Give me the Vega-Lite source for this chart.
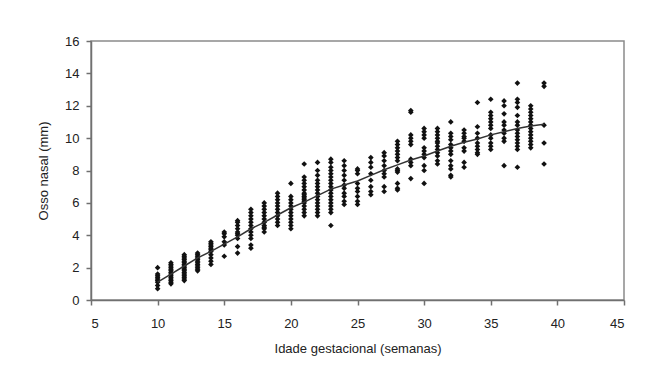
{
  "$schema": "https://vega.github.io/schema/vega-lite/v6.json",
  "width": 533,
  "height": 259,
  "autosize": {"type": "none"},
  "padding": {"left": 91, "top": 41, "right": 22, "bottom": 84},
  "background": "white",
  "config": {
    "view": {"stroke": "#8a8a8a", "strokeWidth": 1.5},
    "font": "Liberation Sans",
    "axis": {
      "grid": false,
      "domainColor": "#707070",
      "domainWidth": 1.5,
      "tickColor": "#707070",
      "tickWidth": 1.5,
      "tickSize": 5,
      "labelFont": "Liberation Sans",
      "labelFontSize": 13,
      "labelColor": "#222",
      "titleFont": "Liberation Sans",
      "titleFontSize": 13,
      "titleFontWeight": "normal",
      "titleColor": "#222"
    }
  },
  "datasets": {
    "pts": [
      {"w":10,"nb":0.7},{"w":10,"nb":0.9},{"w":10,"nb":1.1},{"w":10,"nb":1.2},{"w":10,"nb":1.3},{"w":10,"nb":1.4},{"w":10,"nb":1.5},{"w":10,"nb":1.6},{"w":10,"nb":2.0},
      {"w":11,"nb":1.0},{"w":11,"nb":1.1},{"w":11,"nb":1.2},{"w":11,"nb":1.3},{"w":11,"nb":1.4},{"w":11,"nb":1.5},{"w":11,"nb":1.6},{"w":11,"nb":1.7},{"w":11,"nb":1.8},{"w":11,"nb":1.9},{"w":11,"nb":2.0},{"w":11,"nb":2.1},{"w":11,"nb":2.2},{"w":11,"nb":2.3},
      {"w":12,"nb":1.2},{"w":12,"nb":1.3},{"w":12,"nb":1.4},{"w":12,"nb":1.5},{"w":12,"nb":1.6},{"w":12,"nb":1.7},{"w":12,"nb":1.8},{"w":12,"nb":1.9},{"w":12,"nb":2.0},{"w":12,"nb":2.1},{"w":12,"nb":2.2},{"w":12,"nb":2.3},{"w":12,"nb":2.4},{"w":12,"nb":2.5},{"w":12,"nb":2.6},{"w":12,"nb":2.7},{"w":12,"nb":2.8},
      {"w":13,"nb":1.8},{"w":13,"nb":1.9},{"w":13,"nb":2.0},{"w":13,"nb":2.1},{"w":13,"nb":2.2},{"w":13,"nb":2.3},{"w":13,"nb":2.4},{"w":13,"nb":2.5},{"w":13,"nb":2.6},{"w":13,"nb":2.7},{"w":13,"nb":2.8},{"w":13,"nb":2.9},
      {"w":14,"nb":2.2},{"w":14,"nb":2.4},{"w":14,"nb":2.6},{"w":14,"nb":2.8},{"w":14,"nb":3.0},{"w":14,"nb":3.1},{"w":14,"nb":3.2},{"w":14,"nb":3.3},{"w":14,"nb":3.4},{"w":14,"nb":3.5},{"w":14,"nb":3.6},
      {"w":15,"nb":2.7},{"w":15,"nb":3.4},{"w":15,"nb":3.6},{"w":15,"nb":3.9},{"w":15,"nb":4.1},{"w":15,"nb":4.2},
      {"w":16,"nb":2.9},{"w":16,"nb":3.3},{"w":16,"nb":3.8},{"w":16,"nb":4.0},{"w":16,"nb":4.1},{"w":16,"nb":4.2},{"w":16,"nb":4.4},{"w":16,"nb":4.6},{"w":16,"nb":4.8},{"w":16,"nb":4.9},
      {"w":17,"nb":3.2},{"w":17,"nb":3.4},{"w":17,"nb":3.8},{"w":17,"nb":4.0},{"w":17,"nb":4.2},{"w":17,"nb":4.4},{"w":17,"nb":4.6},{"w":17,"nb":4.8},{"w":17,"nb":5.0},{"w":17,"nb":5.2},{"w":17,"nb":5.4},{"w":17,"nb":5.6},
      {"w":18,"nb":4.2},{"w":18,"nb":4.4},{"w":18,"nb":4.5},{"w":18,"nb":4.6},{"w":18,"nb":4.8},{"w":18,"nb":5.0},{"w":18,"nb":5.2},{"w":18,"nb":5.4},{"w":18,"nb":5.6},{"w":18,"nb":5.8},{"w":18,"nb":6.0},
      {"w":19,"nb":4.6},{"w":19,"nb":4.8},{"w":19,"nb":5.0},{"w":19,"nb":5.2},{"w":19,"nb":5.4},{"w":19,"nb":5.6},{"w":19,"nb":5.8},{"w":19,"nb":6.0},{"w":19,"nb":6.2},{"w":19,"nb":6.4},{"w":19,"nb":6.6},
      {"w":20,"nb":4.4},{"w":20,"nb":4.6},{"w":20,"nb":4.8},{"w":20,"nb":5.0},{"w":20,"nb":5.2},{"w":20,"nb":5.4},{"w":20,"nb":5.6},{"w":20,"nb":5.8},{"w":20,"nb":6.0},{"w":20,"nb":6.2},{"w":20,"nb":6.4},{"w":20,"nb":7.2},
      {"w":21,"nb":5.2},{"w":21,"nb":5.4},{"w":21,"nb":5.6},{"w":21,"nb":5.8},{"w":21,"nb":6.0},{"w":21,"nb":6.1},{"w":21,"nb":6.2},{"w":21,"nb":6.3},{"w":21,"nb":6.4},{"w":21,"nb":6.5},{"w":21,"nb":6.6},{"w":21,"nb":6.8},{"w":21,"nb":7.0},{"w":21,"nb":7.2},{"w":21,"nb":7.4},{"w":21,"nb":7.6},{"w":21,"nb":8.4},
      {"w":22,"nb":5.2},{"w":22,"nb":5.4},{"w":22,"nb":5.6},{"w":22,"nb":5.8},{"w":22,"nb":6.0},{"w":22,"nb":6.2},{"w":22,"nb":6.4},{"w":22,"nb":6.6},{"w":22,"nb":6.8},{"w":22,"nb":7.0},{"w":22,"nb":7.2},{"w":22,"nb":7.4},{"w":22,"nb":7.7},{"w":22,"nb":8.0},{"w":22,"nb":8.5},
      {"w":23,"nb":4.6},{"w":23,"nb":5.4},{"w":23,"nb":5.6},{"w":23,"nb":5.8},{"w":23,"nb":6.0},{"w":23,"nb":6.2},{"w":23,"nb":6.4},{"w":23,"nb":6.6},{"w":23,"nb":6.8},{"w":23,"nb":7.0},{"w":23,"nb":7.2},{"w":23,"nb":7.4},{"w":23,"nb":7.6},{"w":23,"nb":7.8},{"w":23,"nb":8.0},{"w":23,"nb":8.2},{"w":23,"nb":8.5},{"w":23,"nb":8.7},
      {"w":24,"nb":5.9},{"w":24,"nb":6.1},{"w":24,"nb":6.4},{"w":24,"nb":6.6},{"w":24,"nb":6.9},{"w":24,"nb":7.1},{"w":24,"nb":7.4},{"w":24,"nb":7.7},{"w":24,"nb":8.0},{"w":24,"nb":8.3},{"w":24,"nb":8.6},
      {"w":25,"nb":5.9},{"w":25,"nb":6.1},{"w":25,"nb":6.4},{"w":25,"nb":6.7},{"w":25,"nb":6.9},{"w":25,"nb":7.2},{"w":25,"nb":7.8},{"w":25,"nb":8.0},{"w":25,"nb":8.1},
      {"w":26,"nb":6.5},{"w":26,"nb":6.7},{"w":26,"nb":7.0},{"w":26,"nb":7.4},{"w":26,"nb":7.8},{"w":26,"nb":8.2},{"w":26,"nb":8.5},{"w":26,"nb":8.8},
      {"w":27,"nb":6.7},{"w":27,"nb":7.0},{"w":27,"nb":7.6},{"w":27,"nb":7.8},{"w":27,"nb":8.0},{"w":27,"nb":8.3},{"w":27,"nb":8.6},{"w":27,"nb":8.9},{"w":27,"nb":9.1},
      {"w":28,"nb":6.8},{"w":28,"nb":6.9},{"w":28,"nb":7.2},{"w":28,"nb":7.9},{"w":28,"nb":8.0},{"w":28,"nb":8.1},{"w":28,"nb":8.6},{"w":28,"nb":8.8},{"w":28,"nb":9.0},{"w":28,"nb":9.2},{"w":28,"nb":9.4},{"w":28,"nb":9.6},{"w":28,"nb":9.8},
      {"w":29,"nb":7.5},{"w":29,"nb":8.3},{"w":29,"nb":8.5},{"w":29,"nb":8.7},{"w":29,"nb":9.6},{"w":29,"nb":9.8},{"w":29,"nb":10.0},{"w":29,"nb":10.2},{"w":29,"nb":11.6},{"w":29,"nb":11.7},
      {"w":30,"nb":7.2},{"w":30,"nb":8.0},{"w":30,"nb":8.3},{"w":30,"nb":8.8},{"w":30,"nb":9.0},{"w":30,"nb":9.2},{"w":30,"nb":9.4},{"w":30,"nb":10.0},{"w":30,"nb":10.2},{"w":30,"nb":10.4},{"w":30,"nb":10.6},
      {"w":31,"nb":8.4},{"w":31,"nb":8.6},{"w":31,"nb":8.9},{"w":31,"nb":9.1},{"w":31,"nb":9.3},{"w":31,"nb":9.5},{"w":31,"nb":9.7},{"w":31,"nb":9.8},{"w":31,"nb":10.0},{"w":31,"nb":10.2},{"w":31,"nb":10.4},{"w":31,"nb":10.6},
      {"w":32,"nb":7.6},{"w":32,"nb":7.7},{"w":32,"nb":8.1},{"w":32,"nb":8.3},{"w":32,"nb":8.6},{"w":32,"nb":9.0},{"w":32,"nb":9.2},{"w":32,"nb":9.4},{"w":32,"nb":9.6},{"w":32,"nb":9.9},{"w":32,"nb":10.1},{"w":32,"nb":10.3},{"w":32,"nb":11.0},
      {"w":33,"nb":8.2},{"w":33,"nb":8.5},{"w":33,"nb":9.2},{"w":33,"nb":9.4},{"w":33,"nb":9.8},{"w":33,"nb":10.0},{"w":33,"nb":10.1},{"w":33,"nb":10.3},{"w":33,"nb":10.5},
      {"w":34,"nb":9.0},{"w":34,"nb":9.1},{"w":34,"nb":9.3},{"w":34,"nb":9.5},{"w":34,"nb":9.7},{"w":34,"nb":10.0},{"w":34,"nb":10.3},{"w":34,"nb":10.7},{"w":34,"nb":12.2},
      {"w":35,"nb":9.3},{"w":35,"nb":9.5},{"w":35,"nb":9.7},{"w":35,"nb":10.0},{"w":35,"nb":10.2},{"w":35,"nb":10.6},{"w":35,"nb":10.8},{"w":35,"nb":11.0},{"w":35,"nb":11.2},{"w":35,"nb":11.4},{"w":35,"nb":11.6},{"w":35,"nb":12.4},
      {"w":36,"nb":8.3},{"w":36,"nb":9.8},{"w":36,"nb":10.0},{"w":36,"nb":10.3},{"w":36,"nb":10.5},{"w":36,"nb":10.8},{"w":36,"nb":11.0},{"w":36,"nb":11.5},{"w":36,"nb":12.0},{"w":36,"nb":12.3},
      {"w":37,"nb":8.2},{"w":37,"nb":9.3},{"w":37,"nb":9.5},{"w":37,"nb":9.7},{"w":37,"nb":9.9},{"w":37,"nb":10.1},{"w":37,"nb":10.3},{"w":37,"nb":10.5},{"w":37,"nb":10.8},{"w":37,"nb":11.0},{"w":37,"nb":11.4},{"w":37,"nb":11.9},{"w":37,"nb":12.2},{"w":37,"nb":12.4},{"w":37,"nb":13.4},
      {"w":38,"nb":9.4},{"w":38,"nb":9.6},{"w":38,"nb":9.8},{"w":38,"nb":10.0},{"w":38,"nb":10.2},{"w":38,"nb":10.4},{"w":38,"nb":10.6},{"w":38,"nb":10.8},{"w":38,"nb":11.0},{"w":38,"nb":11.2},{"w":38,"nb":11.4},{"w":38,"nb":11.6},{"w":38,"nb":11.8},{"w":38,"nb":12.0},
      {"w":39,"nb":8.4},{"w":39,"nb":9.7},{"w":39,"nb":10.8},{"w":39,"nb":13.2},{"w":39,"nb":13.4}
    ],
    "fit": [
      {"w":10,"nb":1.1},{"w":11,"nb":1.6},{"w":12,"nb":2.1},{"w":13,"nb":2.6},{"w":14,"nb":3.0},{"w":15,"nb":3.45},{"w":16,"nb":3.9},{"w":17,"nb":4.4},{"w":18,"nb":4.8},{"w":19,"nb":5.25},{"w":20,"nb":5.7},{"w":21,"nb":6.05},{"w":22,"nb":6.45},{"w":23,"nb":6.85},{"w":24,"nb":7.1},{"w":25,"nb":7.35},{"w":26,"nb":7.7},{"w":27,"nb":8.05},{"w":28,"nb":8.35},{"w":29,"nb":8.65},{"w":30,"nb":8.9},{"w":31,"nb":9.2},{"w":32,"nb":9.5},{"w":33,"nb":9.75},{"w":34,"nb":9.95},{"w":35,"nb":10.2},{"w":36,"nb":10.4},{"w":37,"nb":10.6},{"w":38,"nb":10.75},{"w":39,"nb":10.85}
    ]
  },
  "layer": [
    {
      "data": {"name": "pts"},
      "mark": {"type": "point", "shape": "diamond", "filled": true, "color": "#111", "size": 32, "opacity": 1},
      "encoding": {
        "x": {"field": "w", "type": "quantitative", "scale": {"domain": [5, 45], "nice": false, "zero": false},
              "axis": {"title": "Idade gestacional (semanas)", "values": [5,10,15,20,25,30,35,40,45], "labelOverlap": false, "labelPadding": 12, "titlePadding": 12}},
        "y": {"field": "nb", "type": "quantitative", "scale": {"domain": [0, 16], "nice": false},
              "axis": {"title": "Osso nasal (mm)", "values": [0,2,4,6,8,10,12,14,16], "tickCount": 9, "labelOverlap": false, "labelFlush": false, "labelPadding": 7, "titlePadding": 14}}
      }
    },
    {
      "data": {"name": "fit"},
      "mark": {"type": "line", "color": "#333", "strokeWidth": 1.5},
      "encoding": {
        "x": {"field": "w", "type": "quantitative"},
        "y": {"field": "nb", "type": "quantitative"}
      }
    }
  ]
}
